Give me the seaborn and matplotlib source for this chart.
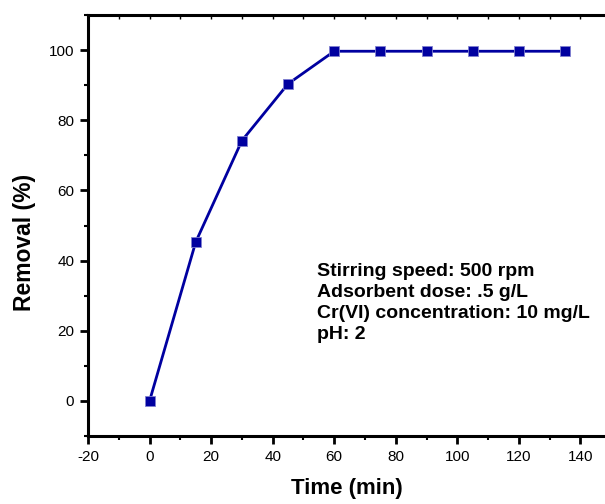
import numpy as np
import pandas as pd
import matplotlib
matplotlib.use("Agg")
import matplotlib.pyplot as plt
from matplotlib.ticker import MultipleLocator
import seaborn as sns

sns.set_style("ticks")
plt.rcParams['font.family'] = ['Liberation Sans', 'DejaVu Sans']
plt.rcParams['axes.unicode_minus'] = False
plt.rcParams['text.color'] = 'black'
plt.rcParams['axes.labelcolor'] = 'black'

# contact time (min) vs Cr(VI) removal (%)
time_min = [0, 15, 30, 45, 60, 75, 90, 105, 120, 135]
removal = [0, 45.3, 74.2, 90.4, 99.7, 99.7, 99.7, 99.7, 99.7, 99.7]
conditions = ["Stirring speed: 500 rpm",
              "Adsorbent dose: .5 g/L",
              "Cr(VI) concentration: 10 mg/L",
              "pH: 2"]

df = pd.DataFrame({"Time (min)": time_min, "Removal (%)": removal})

fig = plt.figure(figsize=(6.05, 5.04), dpi=100)
ax = fig.add_axes([0.1455, 0.135, 0.8545, 0.835])

sns.lineplot(data=df, x="Time (min)", y="Removal (%)", ax=ax,
             color="#0000a0", linewidth=2, marker="s", markersize=7,
             markeredgecolor="#8080d0", markeredgewidth=0.6)

ax.set_xlim(-20, 148)
ax.set_ylim(-10, 110)
ax.xaxis.set_major_locator(MultipleLocator(20))
ax.xaxis.set_minor_locator(MultipleLocator(10))
ax.yaxis.set_major_locator(MultipleLocator(20))
ax.yaxis.set_minor_locator(MultipleLocator(10))

for s in ["left", "bottom", "top"]:
    ax.spines[s].set_linewidth(2.2)
    ax.spines[s].set_color("black")
ax.spines["right"].set_visible(False)

ax.tick_params(which="major", direction="out", length=6, width=2,
               labelsize=11, colors="black", pad=4)
ax.tick_params(which="minor", direction="out", length=3, width=1.5,
               colors="black")
ax.tick_params(axis="x", which="both", top=True)
ax.tick_params(axis="y", which="both", right=False)
# top ticks point inward, small
for t in ax.xaxis.get_major_ticks() + ax.xaxis.get_minor_ticks():
    t.tick2line.set_marker(3)
    t.tick2line.set_markersize(3)
    t.tick2line.set_markeredgewidth(1)

ax.set_xlabel("Time (min)", fontsize=16, fontweight="bold", labelpad=10)
ax.set_ylabel("Removal (%)", fontsize=16.5, fontweight="bold", labelpad=9,
              y=0.46)

ax.text(54.3, 39.3, "\n".join(conditions), fontsize=14, fontweight="bold",
        va="top", ha="left", linespacing=1.3)

fig.savefig("out.png", dpi=100)
